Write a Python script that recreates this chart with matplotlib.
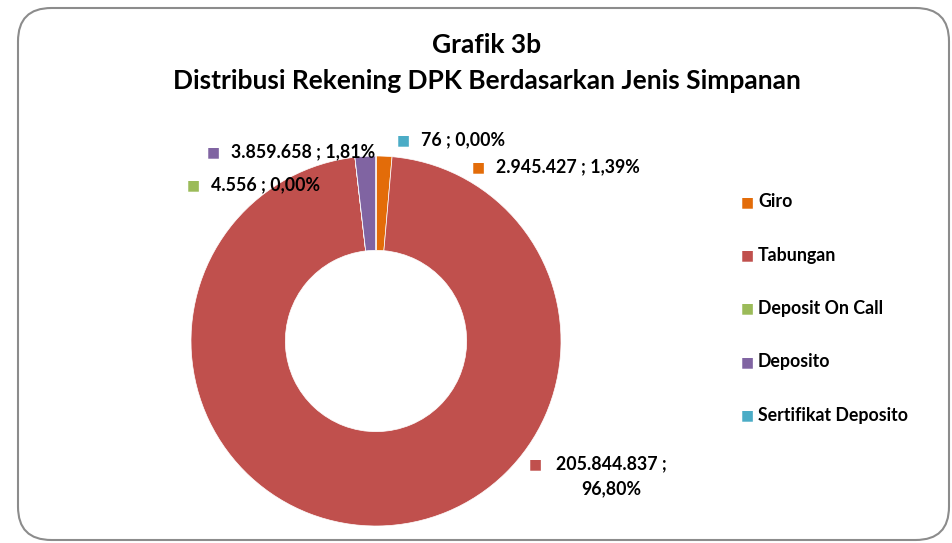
import matplotlib
matplotlib.use("Agg")
import matplotlib.pyplot as plt
from matplotlib.patches import FancyBboxPatch

# data
categories = ["Giro", "Tabungan", "Deposit On Call", "Deposito", "Sertifikat Deposito"]
values = [2945427, 205844837, 4556, 3859658, 76]
colors = ["#E36C09", "#C0504D", "#9BBB59", "#8064A2", "#4BACC6"]

plt.rcParams['font.family'] = ['Lato', 'DejaVu Sans']


def fmt_id(n):
    return "{:,}".format(n).replace(",", ".")


def fmt_pct(v, tot):
    return "{:.2f}%".format(100.0 * v / tot).replace(".", ",")


total = sum(values)

fig = plt.figure(figsize=(9.53, 5.43), dpi=100)

# rounded frame
frame = FancyBboxPatch((18 / 953, 3 / 543), 931 / 953, 532 / 543,
                       boxstyle="round,pad=0,rounding_size=0.035",
                       transform=fig.transFigure, facecolor="white",
                       edgecolor="#8c8c8c", linewidth=1.5, zorder=-5,
                       mutation_aspect=953 / 543)
fig.patches.append(frame)

fig.text(487 / 953, 1 - 45 / 543, "Grafik 3b", ha="center", va="center",
         fontsize=19, fontweight="bold")
fig.text(487 / 953, 1 - 81 / 543, "Distribusi Rekening DPK Berdasarkan Jenis Simpanan",
         ha="center", va="center", fontsize=19, fontweight="bold")

# donut
cx, cy, r = 376, 341, 185
ax = fig.add_axes([(cx - r) / 953, (543 - cy - r) / 543, 2 * r / 953, 2 * r / 543])
ax.set_zorder(2)
ax.pie(values, colors=colors, startangle=90, counterclock=False, radius=1.0,
       wedgeprops=dict(width=0.51, edgecolor="white", linewidth=0.5))
ax.set_xlim(-1, 1)
ax.set_ylim(-1, 1)
ax.set_aspect("equal")
ax.axis("off")

# data labels (pixel anchors of marker square)
label_pos = [(478, 167), (535, 464), (193, 185), (213, 152), (403, 140)]
for i, (name, v) in enumerate(zip(categories, values)):
    px, py = label_pos[i]
    fx, fy = px / 953, 1 - py / 543
    fig.text(fx, fy, "■", color=colors[i], fontsize=10, ha="center", va="center",
             family="DejaVu Sans", zorder=5)
    if name == "Tabungan":
        fig.text(fx + 76 / 953, fy, fmt_id(v) + " ;", fontsize=12.8,
                 fontweight="bold", ha="center", va="center", zorder=5)
        fig.text(fx + 76 / 953, fy - 25 / 543, fmt_pct(v, total), fontsize=12.8,
                 fontweight="bold", ha="center", va="center", zorder=5)
    else:
        fig.text(fx + 18 / 953, fy, fmt_id(v) + " ; " + fmt_pct(v, total),
                 fontsize=12.8, fontweight="bold", ha="left", va="center", zorder=5)

# legend
for i, name in enumerate(categories):
    fy = 1 - (202 + 53.3 * i) / 543
    fig.text(747 / 953, fy, "■", color=colors[i], fontsize=10, ha="center",
             va="center", family="DejaVu Sans")
    fig.text(758 / 953, fy, name, fontsize=12.8, fontweight="bold", ha="left",
             va="center")

plt.savefig("out.png", dpi=100)
